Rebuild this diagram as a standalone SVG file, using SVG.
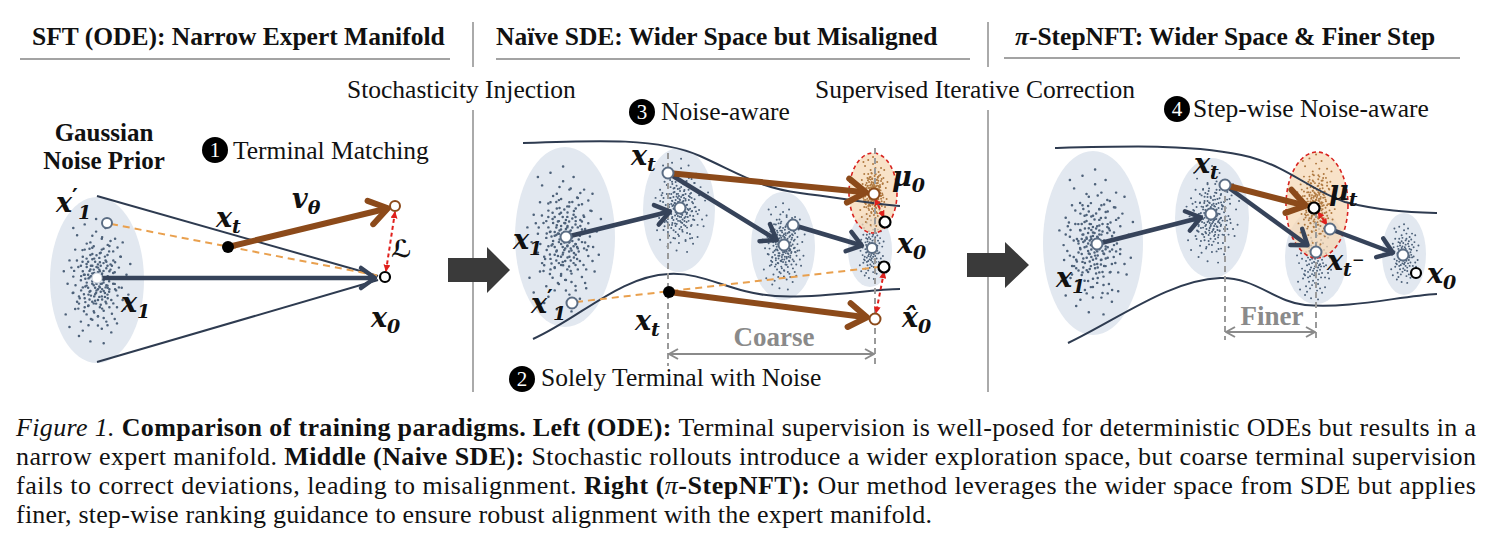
<svg xmlns="http://www.w3.org/2000/svg" xmlns:xlink="http://www.w3.org/1999/xlink" width="1491" height="550" viewBox="0 0 1491 550">
<style>
.hdr{font-family:"Liberation Serif",serif;font-weight:bold;font-size:25.5px;fill:#111}
.lbl{font-family:"Liberation Serif",serif;font-size:25.5px;fill:#111}
.gp{font-family:"Liberation Serif",serif;font-weight:bold;font-size:25px;fill:#111;text-anchor:middle}
.m{font-family:"DejaVu Serif",serif;font-weight:bold;font-style:italic;font-size:27px;fill:#111}
.s{font-size:19px}
.pr{font-family:"DejaVu Sans",sans-serif;font-style:normal;font-size:22px}
.num{font-family:"Liberation Serif",serif;font-size:21px;fill:#fff;text-anchor:middle}
.dim{font-family:"Liberation Serif",serif;font-weight:bold;font-size:27px;fill:#8a8a8a;text-anchor:middle}
.cap{font-family:"Liberation Serif",serif;font-size:26px;fill:#111}
.b{font-weight:bold}
.i{font-style:italic}
.sep{stroke:#aaa;stroke-width:2}
.ul{stroke:#a3a3a3;stroke-width:2.2}
.ell{fill:#e2e8f0}
.org{fill:#f6d8b6;fill-opacity:0.75;stroke:#d8231f;stroke-width:1.6;stroke-dasharray:4 3}
.dots{fill:none;stroke:#4e627a;stroke-width:2.4;stroke-linecap:round}
.dsm{fill:none;stroke:#4e627a;stroke-width:1.9;stroke-linecap:round}
.bdots{fill:none;stroke:#b07a42;stroke-width:1.9;stroke-linecap:round}
.bnd{fill:none;stroke:#2e3b50;stroke-width:2}
.nav{stroke:#36435a;stroke-width:4.5;fill:none;marker-end:url(#hN)}
.brn{stroke:#8c4a1a;stroke-width:6;fill:none;marker-end:url(#hB)}
.od{stroke:#e9a04e;stroke-width:2;stroke-dasharray:7 5;fill:none}
.rd{stroke:#e0201c;stroke-width:2;stroke-dasharray:4 3;fill:none;marker-start:url(#hR);marker-end:url(#hR)}
.gd{stroke:#9a9a9a;stroke-width:2;stroke-dasharray:6 4;fill:none}
.dl{stroke:#8a8a8a;stroke-width:2.2;fill:none;marker-start:url(#hG);marker-end:url(#hG)}
.pw{fill:#fff;stroke:#5b6d84;stroke-width:2}
.pk{fill:#fff;stroke:#000;stroke-width:2.2}
.pb{fill:#fff;stroke:#8c4a1a;stroke-width:2}
.big{fill:#3a3a3a}
</style>
<defs>
<marker id="hN" markerUnits="userSpaceOnUse" viewBox="-4 -14 28 28" markerWidth="28" markerHeight="28" refX="16" refY="0" orient="auto"><path d="M4,-10 L18,0 L4,10" fill="none" stroke="#36435a" stroke-width="4.5" stroke-linecap="round" stroke-linejoin="round"/></marker>
<marker id="hB" markerUnits="userSpaceOnUse" viewBox="-4 -16 32 32" markerWidth="32" markerHeight="32" refX="19" refY="0" orient="auto"><path d="M4,-12 L22,0 L4,12" fill="none" stroke="#8c4a1a" stroke-width="6" stroke-linecap="round" stroke-linejoin="round"/></marker>
<marker id="hR" markerUnits="userSpaceOnUse" viewBox="0 0 10 10" refX="9" refY="5" markerWidth="7" markerHeight="7" orient="auto-start-reverse"><path d="M0,0 L10,5 L0,10 z" fill="#e0201c"/></marker>
<marker id="hG" markerUnits="userSpaceOnUse" viewBox="0 0 12 12" refX="11" refY="6" markerWidth="12" markerHeight="12" orient="auto-start-reverse"><path d="M2,1 L11,6 L2,11" fill="none" stroke="#8a8a8a" stroke-width="2"/></marker>
<path id="cl" vector-effect="non-scaling-stroke" d="M0,0h.1M3,-4h.1M-5,2h.1M6,7h.1M-2,-9h.1M8,-2h.1M-7,-6h.1M1,10h.1M-4,13h.1M5,-12h.1M10,4h.1M-9,8h.1M2,-16h.1M-1,17h.1M12,-8h.1M-12,-3h.1M4,20h.1M-6,-18h.1M7,14h.1M-3,-22h.1M14,10h.1M-11,15h.1M9,-17h.1M-8,22h.1M3,26h.1M-14,-12h.1M16,-4h.1M0,-28h.1M-10,-26h.1M11,23h.1M2,3h.1M-3,5h.1M4,-1h.1M-1,-5h.1M5,3h.1M-4,-2h.1M1,-8h.1M-6,9h.1M7,-6h.1M-2,11h.1M3,8h.1M-5,-10h.1M6,-9h.1M-7,3h.1M8,10h.1M-1,-13h.1M2,14h.1M-3,-15h.1M9,1h.1M-8,-1h.1M0,6h.1M1,-3h.1M-2,1h.1M3,1h.1M-4,7h.1M5,11h.1M-6,-4h.1M6,-15h.1M-9,12h.1M10,-11h.1M4,16h.1M-5,18h.1M7,-20h.1M-7,-14h.1M12,3h.1M-12,6h.1M1,19h.1M-2,-19h.1M3,-24h.1M-4,24h.1M13,-14h.1M-13,-8h.1M15,15h.1M-15,1h.1M8,28h.1M-9,30h.1M5,-30h.1M-6,-32h.1M17,7h.1M-16,18h.1M0,12h.1M2,-11h.1M-3,-7h.1M4,5h.1M-5,-13h.1M6,2h.1M-1,8h.1M1,4h.1M-2,-3h.1M2,-6h.1M-8,-9h.1M9,-5h.1M-10,11h.1M11,14h.1M-11,-18h.1M10,-24h.1M-3,33h.1M4,34h.1M0,-35h.1M-14,25h.1M18,-10h.1M-17,-6h.1M14,-22h.1M-12,-30h.1M6,24h.1M-7,27h.1M3,-18h.1M-2,21h.1M7,4h.1M-6,14h.1"/>
</defs>
<rect width="1491" height="550" fill="#fff"/>

<g id="headers">
<text class="hdr" x="32" y="45">SFT (ODE): Narrow Expert Manifold</text>
<line class="ul" x1="20" y1="59" x2="450" y2="59"/>
<text class="hdr" x="496" y="45">Naïve SDE: Wider Space but Misaligned</text>
<line class="ul" x1="496" y1="59" x2="970" y2="59"/>
<text class="hdr" x="1015" y="45"><tspan class="i">π</tspan>-StepNFT: Wider Space &amp; Finer Step</text>
<line class="ul" x1="1004" y1="58" x2="1460" y2="58"/>
<line class="sep" x1="473" y1="22" x2="473" y2="67"/>
<line class="sep" x1="473" y1="110" x2="473" y2="392"/>
<line class="sep" x1="988" y1="22" x2="988" y2="67"/>
<line class="sep" x1="988" y1="110" x2="988" y2="392"/>
<text class="lbl" x="347" y="98">Stochasticity Injection</text>
<text class="lbl" x="815" y="98">Supervised Iterative Correction</text>
</g>

<g id="steps">
<g id="step1"><circle cx="215" cy="150" r="13" fill="#000"/><text class="num" x="215" y="157">1</text><text class="lbl" x="233" y="159">Terminal Matching</text></g>
<g id="step2"><circle cx="522" cy="379" r="13" fill="#000"/><text class="num" x="522" y="386">2</text><text class="lbl" x="541" y="386">Solely Terminal with Noise</text></g>
<g id="step3"><circle cx="642" cy="112" r="13" fill="#000"/><text class="num" x="642" y="119">3</text><text class="lbl" x="661" y="120">Noise-aware</text></g>
<g id="step4"><circle cx="1177" cy="109" r="13" fill="#000"/><text class="num" x="1177" y="116">4</text><text class="lbl" x="1193" y="117">Step-wise Noise-aware</text></g>
</g>

<g id="big-arrows">
<polygon class="big" points="448,258 487,258 487,247 510,270 487,293 487,282 448,282"/>
<polygon class="big" points="967,253 1005,253 1005,242 1029,265 1005,288 1005,277 967,277"/>
</g>

<!-- LEFT PANEL -->
<g id="left-prior">
<text class="gp" x="104" y="141">Gaussian</text>
<text class="gp" x="104" y="169">Noise Prior</text>
<ellipse class="ell" cx="97" cy="280" rx="47" ry="83"/>
<use xlink:href="#cl" class="dots" transform="translate(96,282) scale(1.9,1.8)"/>
<use xlink:href="#cl" class="dots" transform="translate(98,280) scale(-1.4,-1.3)"/>
</g>
<g id="left-cone">
<line class="bnd" x1="97" y1="196" x2="378" y2="276"/>
<line class="bnd" x1="97" y1="362" x2="378" y2="280"/>
</g>

<!-- MIDDLE PANEL -->
<g id="mid-e1"><ellipse class="ell" cx="565" cy="237" rx="50" ry="90"/>
<use xlink:href="#cl" class="dots" transform="translate(563,240) scale(2.1,2.1)"/>
<use xlink:href="#cl" class="dots" transform="translate(566,238) scale(-1.6,-1.5)"/></g>
<g id="mid-e2"><ellipse class="ell" cx="679" cy="210" rx="36" ry="62"/>
<use xlink:href="#cl" class="dsm" transform="translate(681,206) scale(1.5,1.35)"/>
<use xlink:href="#cl" class="dsm" transform="translate(679,208) scale(-1.1,-1.0)"/></g>
<g id="mid-e3"><ellipse class="ell" cx="783" cy="246" rx="32" ry="54"/>
<use xlink:href="#cl" class="dsm" transform="translate(783,247) scale(1.2,1.25)"/>
<use xlink:href="#cl" class="dsm" transform="translate(784,245) scale(-0.9,-0.9)"/></g>
<g id="mid-e4"><ellipse class="ell" cx="870" cy="250" rx="22" ry="37"/>
<use xlink:href="#cl" class="dsm" transform="translate(871,250) scale(0.7,0.85)"/></g>
<g id="mid-mu"><ellipse class="org" cx="873" cy="193" rx="24" ry="40"/>
<use xlink:href="#cl" class="bdots" transform="translate(873,192) scale(0.8,1.0)"/>
<use xlink:href="#cl" class="bdots" transform="translate(874,194) scale(-0.55,-0.6)"/></g>
<g id="mid-bounds">
<path class="bnd" d="M523,143 C600,140 660,138 700,156 C740,174 760,188 800,193 C840,198 880,205 900,206"/>
<path class="bnd" d="M533,339 C580,318 620,276 669,274 C705,272 730,293 775,296 C820,299 870,289 900,289"/>
</g>

<!-- RIGHT PANEL -->
<g id="right-e1"><ellipse class="ell" cx="1093" cy="243" rx="50" ry="92"/>
<use xlink:href="#cl" class="dots" transform="translate(1095,243) scale(2.1,2.1)"/>
<use xlink:href="#cl" class="dots" transform="translate(1093,245) scale(-1.6,-1.5)"/></g>
<g id="right-e2"><ellipse class="ell" cx="1212" cy="218" rx="37" ry="60"/>
<use xlink:href="#cl" class="dsm" transform="translate(1212,215) scale(1.5,1.4)"/>
<use xlink:href="#cl" class="dsm" transform="translate(1212,217) scale(-1.1,-1.0)"/></g>
<g id="right-e3"><ellipse class="ell" cx="1316" cy="257" rx="31" ry="47"/>
<use xlink:href="#cl" class="dsm" transform="translate(1314,262) scale(1.0,1.1)"/></g>
<g id="right-mu"><ellipse class="org" cx="1317" cy="205" rx="31" ry="53"/>
<use xlink:href="#cl" class="bdots" transform="translate(1316,200) scale(1.1,1.3)"/>
<use xlink:href="#cl" class="bdots" transform="translate(1316,205) scale(-0.8,-0.9)"/></g>
<g id="right-e4"><ellipse class="ell" cx="1404" cy="254" rx="22" ry="41"/>
<use xlink:href="#cl" class="dsm" transform="translate(1404,254) scale(0.8,0.85)"/></g>
<g id="right-bounds">
<path class="bnd" d="M1055,148 C1130,146 1200,144 1250,157 C1290,168 1310,190 1345,202 C1380,211 1410,212 1437,213"/>
<path class="bnd" d="M1068,343 C1120,318 1170,280 1220,278 C1255,277 1275,302 1305,305 C1350,309 1400,296 1437,294"/>
</g>

<!-- CONNECTORS -->
<g id="connectors">
<line class="od" x1="111" y1="224" x2="380" y2="276"/>
<line class="nav" x1="101" y1="278" x2="373" y2="278"/>
<line class="brn" x1="228" y1="247" x2="385" y2="209"/>
<line class="rd" x1="395" y1="212" x2="386" y2="271"/>

<line class="gd" x1="668" y1="153" x2="668" y2="366"/>
<line class="gd" x1="875" y1="148" x2="875" y2="366"/>
<line class="dl" x1="669" y1="354" x2="874" y2="354"/>
<line class="od" x1="576" y1="302" x2="879" y2="267"/>
<line class="nav" x1="566" y1="237" x2="668" y2="212"/>
<line class="nav" x1="668" y1="173" x2="775" y2="239"/>
<line class="nav" x1="793" y1="225" x2="860" y2="245"/>
<line class="brn" x1="668" y1="173" x2="863" y2="192"/>
<line class="brn" x1="669" y1="292" x2="864" y2="317"/>
<line class="rd" x1="875" y1="199" x2="884" y2="217"/>
<line class="rd" x1="884" y1="272" x2="876" y2="313"/>

<line class="gd" x1="1225" y1="186" x2="1225" y2="340"/>
<line class="gd" x1="1316" y1="212" x2="1316" y2="340"/>
<line class="dl" x1="1226" y1="332" x2="1315" y2="332"/>
<line class="nav" x1="1097" y1="244" x2="1199" y2="218"/>
<line class="nav" x1="1225" y1="185" x2="1306" y2="244"/>
<line class="nav" x1="1330" y1="229" x2="1391" y2="252"/>
<line class="brn" x1="1225" y1="185" x2="1303" y2="205"/>
<line class="rd" x1="1318" y1="212" x2="1327" y2="225"/>
</g>

<!-- POINTS -->
<g id="points">
<g id="l-x1p"><circle class="pw" cx="107" cy="223" r="5"/></g>
<g id="l-x1"><circle cx="97" cy="278" r="5" fill="#fff" stroke="#c9d1dc" stroke-width="1"/></g>
<g id="l-xt"><circle cx="228" cy="247" r="6" fill="#000"/></g>
<g id="l-x0"><circle class="pk" cx="385" cy="277" r="5"/></g>
<g id="l-vt"><circle class="pb" cx="395" cy="206" r="5"/></g>

<g id="m-x1"><circle class="pw" cx="566" cy="237" r="5.5"/></g>
<g id="m-e2p"><circle class="pw" cx="680" cy="208" r="5.5"/></g>
<g id="m-xt"><circle class="pw" cx="668" cy="173" r="5.5"/></g>
<g id="m-e3a"><circle class="pw" cx="784" cy="245" r="5.5"/></g>
<g id="m-e3b"><circle class="pw" cx="793" cy="225" r="5.5"/></g>
<g id="m-e4"><circle class="pw" cx="872" cy="248" r="5"/></g>
<g id="m-mu0"><circle class="pb" cx="874" cy="194" r="5.5"/></g>
<g id="m-k1"><circle class="pk" cx="885" cy="222" r="5.5"/></g>
<g id="m-k2"><circle class="pk" cx="884" cy="267" r="5.5"/></g>
<g id="m-xh0"><circle class="pb" cx="875" cy="319" r="5.5"/></g>
<g id="m-x1p"><circle class="pw" cx="572" cy="303" r="5.5"/></g>
<g id="m-xtl"><circle cx="669" cy="292" r="6" fill="#000"/></g>

<g id="r-x1"><circle class="pw" cx="1097" cy="244" r="5.5"/></g>
<g id="r-e2p"><circle class="pw" cx="1211" cy="214" r="5.5"/></g>
<g id="r-xt"><circle class="pw" cx="1225" cy="185" r="5.5"/></g>
<g id="r-mut"><circle class="pk" cx="1314" cy="208" r="5.5"/></g>
<g id="r-e3u"><circle class="pw" cx="1330" cy="229" r="5.5"/></g>
<g id="r-xtm"><circle class="pw" cx="1316" cy="252" r="5.5"/></g>
<g id="r-e4"><circle class="pw" cx="1403" cy="255" r="5.5"/></g>
<g id="r-x0"><circle class="pk" cx="1416" cy="273" r="5"/></g>
</g>

<!-- MATH LABELS -->
<g id="labels">
<text class="m" x="56" y="212">x<tspan class="pr" dy="-8">′</tspan><tspan class="s" dy="15">1</tspan></text>
<text class="m" x="216" y="227">x<tspan class="s" dy="6">t</tspan></text>
<text class="m" x="292" y="208">v<tspan class="s" dy="6">θ</tspan></text>
<text x="391" y="257" font-family="DejaVu Serif, DejaVu Sans, serif" font-size="24" font-weight="bold" fill="#111">ℒ</text>
<text class="m" x="121" y="312">x<tspan class="s" dy="6">1</tspan></text>
<text class="m" x="371" y="327">x<tspan class="s" dy="6">0</tspan></text>

<text class="m" x="631" y="165">x<tspan class="s" dy="6">t</tspan></text>
<text class="m" x="892" y="186">μ<tspan class="s" dy="6">0</tspan></text>
<text class="m" x="897" y="253">x<tspan class="s" dy="6">0</tspan></text>
<text class="m" x="902" y="327">x̂<tspan class="s" dy="6">0</tspan></text>
<text class="m" x="513" y="249">x<tspan class="s" dy="6">1</tspan></text>
<text class="m" x="531" y="313">x<tspan class="pr" dy="-8">′</tspan><tspan class="s" dy="15">1</tspan></text>
<text class="m" x="635" y="330">x<tspan class="s" dy="6">t</tspan></text>
<text class="dim" x="774" y="346">Coarse</text>

<text class="m" x="1194" y="173">x<tspan class="s" dy="6">t</tspan></text>
<text class="m" x="1329" y="200">μ<tspan class="s" dy="6">t</tspan></text>
<text class="m" x="1327" y="270">x<tspan class="s" dy="6">t</tspan><tspan font-size="15" dy="-11">−</tspan></text>
<text class="m" x="1427" y="283">x<tspan class="s" dy="6">0</tspan></text>
<text class="m" x="1056" y="287">x<tspan class="s" dy="6">1</tspan></text>
<text class="dim" x="1272" y="325">Finer</text>
</g>

<g id="caption">
<text class="cap" x="16" y="436" textLength="1460" lengthAdjust="spacing"><tspan class="i">Figure 1. </tspan><tspan class="b">Comparison of training paradigms. Left (ODE): </tspan><tspan>Terminal supervision is well-posed for deterministic ODEs but results in a</tspan></text>
<text class="cap" x="16" y="465" textLength="1460" lengthAdjust="spacing"><tspan>narrow expert manifold. </tspan><tspan class="b">Middle (Naive SDE): </tspan><tspan>Stochastic rollouts introduce a wider exploration space, but coarse terminal supervision</tspan></text>
<text class="cap" x="16" y="494" textLength="1460" lengthAdjust="spacing"><tspan>fails to correct deviations, leading to misalignment. </tspan><tspan class="b">Right (</tspan><tspan class="i">π</tspan><tspan class="b">-StepNFT): </tspan><tspan>Our method leverages the wider space from SDE but applies</tspan></text>
<text class="cap" x="16" y="523" textLength="916" lengthAdjust="spacing">finer, step-wise ranking guidance to ensure robust alignment with the expert manifold.</text>
</g>
</svg>
